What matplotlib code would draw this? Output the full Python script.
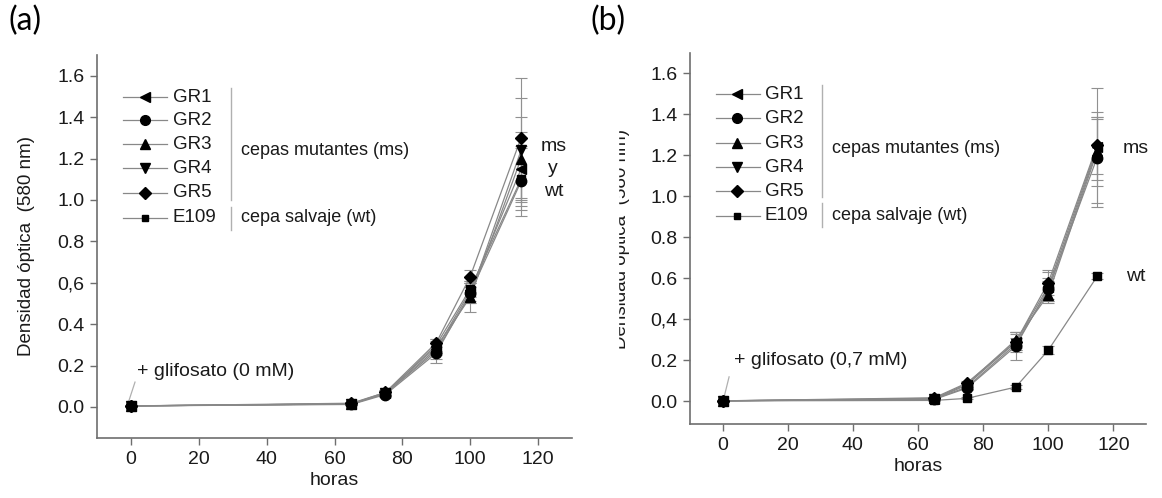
import matplotlib
matplotlib.use("Agg")
import matplotlib.pyplot as plt
from matplotlib.patches import Rectangle

plt.rcParams['font.family'] = ['Liberation Sans', 'DejaVu Sans']

# ---------------- data ----------------
horas = [0, 65, 75, 90, 100, 115]
cepas = ["GR1", "GR2", "GR3", "GR4", "GR5", "E109"]
marcadores = ["<", "o", "^", "v", "D", "s"]

# panel (a): glifosato 0 mM
a_GR1 = [0.005, 0.015, 0.065, 0.28, 0.56, 1.15]
a_GR2 = [0.005, 0.012, 0.060, 0.26, 0.55, 1.09]
a_GR3 = [0.005, 0.015, 0.070, 0.29, 0.53, 1.20]
a_GR4 = [0.005, 0.014, 0.065, 0.27, 0.54, 1.24]
a_GR5 = [0.005, 0.018, 0.070, 0.31, 0.63, 1.30]
a_E109 = [0.005, 0.015, 0.065, 0.30, 0.57, 1.10]
a_err_GR1 = [0.0, 0.005, 0.01, 0.03, 0.05, 0.18]
a_err_GR2 = [0.0, 0.005, 0.01, 0.05, 0.05, 0.17]
a_err_GR3 = [0.0, 0.005, 0.01, 0.03, 0.07, 0.20]
a_err_GR4 = [0.0, 0.005, 0.01, 0.04, 0.04, 0.25]
a_err_GR5 = [0.0, 0.005, 0.01, 0.02, 0.03, 0.29]
a_err_E109 = [0.0, 0.005, 0.01, 0.03, 0.04, 0.15]

# panel (b): glifosato 0,7 mM
b_GR1 = [0.003, 0.012, 0.080, 0.29, 0.56, 1.24]
b_GR2 = [0.003, 0.010, 0.065, 0.27, 0.55, 1.19]
b_GR3 = [0.003, 0.015, 0.085, 0.30, 0.52, 1.22]
b_GR4 = [0.003, 0.012, 0.070, 0.28, 0.54, 1.23]
b_GR5 = [0.003, 0.018, 0.090, 0.29, 0.58, 1.25]
b_E109 = [0.003, 0.005, 0.015, 0.070, 0.25, 0.61]
b_err_GR1 = [0.0, 0.005, 0.01, 0.05, 0.07, 0.29]
b_err_GR2 = [0.0, 0.005, 0.01, 0.07, 0.05, 0.22]
b_err_GR3 = [0.0, 0.005, 0.01, 0.04, 0.04, 0.17]
b_err_GR4 = [0.0, 0.005, 0.01, 0.03, 0.05, 0.15]
b_err_GR5 = [0.0, 0.005, 0.01, 0.04, 0.06, 0.14]
b_err_E109 = [0.0, 0.003, 0.005, 0.01, 0.02, 0.015]

xticks = [0, 20, 40, 60, 80, 100, 120]
yticks = [0.0, 0.2, 0.4, 0.6, 0.8, 1.0, 1.2, 1.4, 1.6]
a_yticklabels = ["0.0", "0.2", "0.4", "0,6", "0.8", "1.0", "1.2", "1.4", "1.6"]
b_yticklabels = ["0.0", "0.2", "0,4", "0.6", "0.8", "1.0", "1.2", "1.4", "1.6"]

a_series = [a_GR1, a_GR2, a_GR3, a_GR4, a_GR5, a_E109]
a_errs = [a_err_GR1, a_err_GR2, a_err_GR3, a_err_GR4, a_err_GR5, a_err_E109]
b_series = [b_GR1, b_GR2, b_GR3, b_GR4, b_GR5, b_E109]
b_errs = [b_err_GR1, b_err_GR2, b_err_GR3, b_err_GR4, b_err_GR5, b_err_E109]

W, H = 1162, 498
fig = plt.figure(figsize=(W / 100, H / 100), dpi=100)

def fig_rect(l, t, r, b):
    return [l / W, 1 - b / H, (r - l) / W, (b - t) / H]

axa = fig.add_axes(fig_rect(97, 55, 572, 438))
axb = fig.add_axes(fig_rect(690, 53, 1146, 424))

LINE_C = "#888888"
SPINE_C = "#6e6e6e"
TXT_C = "#1a1a1a"

def style_axes(ax, ylim, yticklabels):
    ax.set_xlim(-10, 130)
    ax.set_ylim(*ylim)
    ax.set_xticks(xticks)
    ax.set_yticks(yticks)
    ax.set_yticklabels(yticklabels)
    for s in ["top", "right"]:
        ax.spines[s].set_visible(False)
    for s in ["left", "bottom"]:
        ax.spines[s].set_color(SPINE_C)
        ax.spines[s].set_linewidth(1.2)
    ax.tick_params(axis="both", colors=SPINE_C, labelcolor=TXT_C,
                   labelsize=14, length=5, width=1.0, pad=4)
    ax.set_xlabel("horas", fontsize=14, color=TXT_C, labelpad=3)

def draw_series(ax, series, errs):
    for vals, err, m in zip(series, errs, marcadores):
        ms = 5.5 if m == "s" else (6.5 if m == "D" else 7.5)
        ax.errorbar(horas, vals, yerr=err, fmt="none", ecolor="#909090",
                    elinewidth=0.8, capsize=4, capthick=0.8, zorder=2)
        ax.plot(horas, vals, color=LINE_C, lw=0.9, zorder=3)
        ax.plot(horas, vals, linestyle="none", marker=m, markersize=ms,
                color="black", zorder=4)

def draw_legend(ax, xl0, xl1, xm, xt, ys, xv, v1, v2, xtxt, ymut, ywt):
    for name, m, y in zip(cepas, marcadores, ys):
        ms = 5 if m == "s" else (6 if m == "D" else 7)
        ax.plot([xl0, xl1], [y, y], color=LINE_C, lw=0.9, clip_on=False, zorder=5)
        ax.plot([xm], [y], marker=m, markersize=ms, color="black",
                clip_on=False, zorder=6)
        ax.text(xt, y, name, fontsize=13.5, va="center", ha="left", color=TXT_C)
    ax.plot([xv, xv], v1, color="#b0b0b0", lw=1.0)
    ax.plot([xv, xv], v2, color="#b0b0b0", lw=1.0)
    ax.text(xtxt, ymut, "cepas mutantes (ms)", fontsize=13, va="center",
            ha="left", color=TXT_C)
    ax.text(xtxt, ywt, "cepa salvaje (wt)", fontsize=13, va="center",
            ha="left", color=TXT_C)

# ---- panel (a)
style_axes(axa, (-0.15, 1.7), a_yticklabels)
draw_series(axa, a_series, a_errs)
axa.set_ylabel("Densidad óptica  (580 nm)", fontsize=13.5, color=TXT_C)
axa.yaxis.set_label_coords(-0.13, 0.5)
draw_legend(axa, -2.3, 10.6, 4.1, 12.3,
            [1.495, 1.385, 1.27, 1.154, 1.034, 0.913],
            29.6, [1.0, 1.543], [0.856, 0.966], 32.3, 1.24, 0.913)
axa.plot([-0.6, 1.2], [0.03, 0.12], color="#b0b0b0", lw=0.9)
axa.text(1.8, 0.17, "+ glifosato (0 mM)", fontsize=14, va="center", ha="left",
         color=TXT_C)
for lab, y in zip(["ms", "y", "wt"], [1.26, 1.15, 1.04]):
    axa.text(124.5, y, lab, fontsize=14, va="center", ha="center", color=TXT_C)

# ---- panel (b)
style_axes(axb, (-0.11, 1.7), b_yticklabels)
draw_series(axb, b_series, b_errs)
axb.set_ylabel("Densidad óptica  (580 nm)", fontsize=13.5, color=TXT_C)
axb.yaxis.set_label_coords(-0.132, 0.5)
draw_legend(axb, -2.1, 11.5, 4.5, 13.0,
            [1.498, 1.381, 1.26, 1.143, 1.026, 0.905],
            30.6, [0.997, 1.542], [0.851, 0.968], 33.6, 1.235, 0.905)
axb.plot([0.6, 2.0], [0.03, 0.12], color="#b0b0b0", lw=0.9)
axb.text(3.4, 0.20, "+ glifosato (0,7 mM)", fontsize=14, va="center", ha="left",
         color=TXT_C)
axb.text(127, 1.235, "ms", fontsize=14, va="center", ha="center", color=TXT_C)
axb.text(127, 0.61, "wt", fontsize=14, va="center", ha="center", color=TXT_C)

# the y label of panel (b) is partly cut off on its left side in the original
fig.patches.append(Rectangle((598 / W, 1 - 440 / H), 20 / W, 340 / H,
                             transform=fig.transFigure, color="white", zorder=10))

# panel letters
fig.text(9 / W, 1 - 21 / H, "(a)", fontsize=23, family=["Lato", "DejaVu Sans"],
         va="center", ha="left")
fig.text(591 / W, 1 - 21 / H, "(b)", fontsize=23, family=["Lato", "DejaVu Sans"],
         va="center", ha="left")

fig.savefig("out.png", dpi=100, facecolor="white")
